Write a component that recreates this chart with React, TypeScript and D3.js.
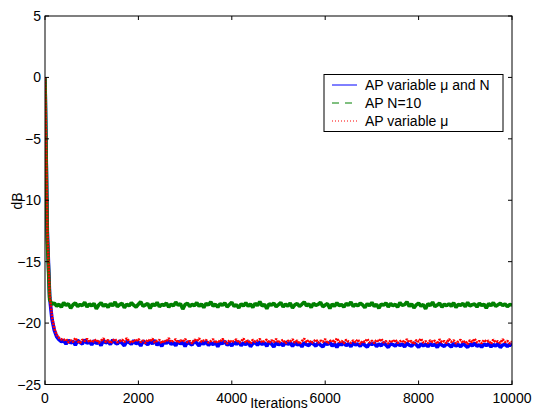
import React from "react";
import * as d3 from "d3";

const ITER_STEP = 50;
const X_TICKS = [0, 2000, 4000, 6000, 8000, 10000];
const Y_TICKS = [5, 0, -5, -10, -15, -20, -25];
const SERIES_NAMES = ["AP variable \u03bc and N", "AP N=10", "AP variable \u03bc"];

const blueVals = [
  0, -12.6, -17.9, -19.7, -20.6, -21.1, -21.35, -21.5, -21.42,
  -21.71, -21.38, -21.62, -21.47, -21.80, -21.41, -21.58, -21.69, -21.36, -21.64, -21.50, -21.77,
  -21.43, -21.66, -21.52, -21.82, -21.40, -21.61, -21.49, -21.74, -21.37, -21.59, -21.70, -21.45,
  -21.63, -21.84, -21.48, -21.57, -21.72, -21.42, -21.68, -21.55, -21.86, -21.46, -21.61, -21.75,
  -21.50, -21.67, -21.41, -21.79, -21.58, -21.88, -21.52, -21.64, -21.44, -21.73, -21.60, -21.83,
  -21.47, -21.69, -21.56, -21.90, -21.51, -21.66, -21.78, -21.45, -21.62, -21.85, -21.54, -21.71,
  -21.49, -21.81, -21.60, -21.74, -21.52, -21.92, -21.58, -21.67, -21.47, -21.79, -21.63, -21.86,
  -21.55, -21.72, -21.50, -21.84, -21.61, -21.76, -21.48, -21.91, -21.66, -21.57, -21.80, -21.53,
  -21.74, -21.59, -21.88, -21.52, -21.69, -21.95, -21.58, -21.77, -21.63, -21.84, -21.54, -21.73,
  -21.61, -21.89, -21.56, -21.78, -21.66, -21.93, -21.59, -21.75, -21.82, -21.55, -21.70, -21.87,
  -21.60, -21.79, -21.94, -21.62, -21.73, -21.57, -21.86, -21.68, -21.97, -21.64, -21.77, -21.59,
  -21.83, -21.66, -21.92, -21.61, -21.78, -21.70, -21.88, -21.58, -21.81, -21.95, -21.65, -21.74,
  -21.62, -21.90, -21.71, -21.84, -21.59, -21.79, -21.98, -21.67, -21.75, -21.87, -21.63, -21.82,
  -21.70, -21.93, -21.64, -21.80, -21.88, -21.61, -21.76, -21.96, -21.68, -21.85, -21.73, -21.91,
  -21.66, -21.83, -21.72, -21.99, -21.63, -21.80, -21.89, -21.69, -21.77, -21.94, -21.65, -21.86,
  -21.74, -21.92, -21.67, -21.81, -21.97, -21.70, -21.84, -21.64, -21.88, -21.76, -21.95, -21.71,
  -21.82, -21.68, -21.93, -21.75, -21.87, -21.66, -21.98, -21.79, -21.72, -21.90, -21.69, -21.84,
];

const greenVals = [
  0, -13.2, -18.1, -18.45,
  -18.38, -18.61, -18.47, -18.70, -18.33, -18.55, -18.44, -18.78, -18.51, -18.36, -18.64, -18.49,
  -18.57, -18.31, -18.68, -18.45, -18.59, -18.40, -18.83, -18.53, -18.35, -18.62, -18.48, -18.72,
  -18.42, -18.58, -18.29, -18.66, -18.50, -18.39, -18.75, -18.46, -18.60, -18.34, -18.54, -18.69,
  -18.47, -18.27, -18.63, -18.52, -18.41, -18.80, -18.44, -18.58, -18.32, -18.67, -18.49, -18.56,
  -18.37, -18.71, -18.46, -18.60, -18.30, -18.55, -18.43, -18.86, -18.50, -18.39, -18.65, -18.48,
  -18.58, -18.34, -18.62, -18.45, -18.74, -18.40, -18.53, -18.28, -18.61, -18.47, -18.70, -18.42,
  -18.55, -18.36, -18.68, -18.49, -18.31, -18.64, -18.51, -18.77, -18.44, -18.59, -18.35, -18.63,
  -18.46, -18.72, -18.40, -18.57, -18.26, -18.60, -18.48, -18.82, -18.43, -18.54, -18.38, -18.66,
  -18.50, -18.33, -18.69, -18.45, -18.61, -18.37, -18.76, -18.52, -18.41, -18.64, -18.47, -18.29,
  -18.59, -18.44, -18.73, -18.39, -18.56, -18.48, -18.31, -18.67, -18.53, -18.42, -18.81, -18.46,
  -18.62, -18.35, -18.57, -18.49, -18.70, -18.41, -18.54, -18.28, -18.65, -18.47, -18.60, -18.38,
  -18.51, -18.74, -18.43, -18.58, -18.32, -18.63, -18.48, -18.79, -18.45, -18.55, -18.36, -18.68,
  -18.40, -18.59, -18.47, -18.71, -18.34, -18.56, -18.50, -18.27, -18.64, -18.44, -18.75, -18.52,
  -18.37, -18.61, -18.49, -18.84, -18.42, -18.57, -18.30, -18.66, -18.53, -18.39, -18.70, -18.46,
  -18.58, -18.43, -18.62, -18.35, -18.73, -18.48, -18.55, -18.41, -18.67, -18.32, -18.60, -18.50,
  -18.45, -18.69, -18.38, -18.56, -18.47, -18.78, -18.42, -18.59, -18.33, -18.64, -18.51, -18.40,
  -18.57, -18.44, -18.66, -18.49, -18.53,
];

const redVals = [
  0, -12.4, -17.7, -19.5, -20.45, -20.95, -21.2, -21.32, -21.38,
  -21.30, -21.58, -21.41, -21.52, -21.22, -21.49, -21.62, -21.35, -21.47, -21.28, -21.55, -21.40,
  -21.51, -21.33, -21.60, -21.44, -21.26, -21.53, -21.38, -21.65, -21.42, -21.31, -21.57, -21.46,
  -21.36, -21.54, -21.24, -21.48, -21.61, -21.39, -21.50, -21.29, -21.56, -21.43, -21.63, -21.34,
  -21.49, -21.27, -21.58, -21.45, -21.37, -21.64, -21.41, -21.52, -21.23, -21.55, -21.44, -21.32,
  -21.60, -21.40, -21.51, -21.30, -21.57, -21.46, -21.66, -21.35, -21.48, -21.25, -21.53, -21.42,
  -21.38, -21.59, -21.47, -21.31, -21.62, -21.44, -21.54, -21.28, -21.50, -21.67, -21.39, -21.56,
  -21.45, -21.33, -21.61, -21.49, -21.26, -21.57, -21.41, -21.68, -21.36, -21.52, -21.43, -21.30,
  -21.58, -21.46, -21.35, -21.63, -21.40, -21.54, -21.29, -21.60, -21.48, -21.37, -21.65, -21.44,
  -21.51, -21.32, -21.59, -21.42, -21.69, -21.47, -21.27, -21.56, -21.39, -21.62, -21.50, -21.34,
  -21.60, -21.43, -21.53, -21.30, -21.66, -21.48, -21.38, -21.58, -21.24, -21.55, -21.45, -21.64,
  -21.36, -21.52, -21.61, -21.41, -21.57, -21.33, -21.70, -21.46, -21.54, -21.29, -21.59, -21.44,
  -21.63, -21.37, -21.50, -21.28, -21.58, -21.47, -21.67, -21.40, -21.55, -21.35, -21.62, -21.49,
  -21.42, -21.60, -21.31, -21.56, -21.45, -21.71, -21.38, -21.52, -21.26, -21.59, -21.48, -21.65,
  -21.39, -21.54, -21.44, -21.68, -21.33, -21.57, -21.47, -21.62, -21.30, -21.53, -21.41, -21.66,
  -21.50, -21.36, -21.61, -21.45, -21.72, -21.40, -21.55, -21.28, -21.58, -21.46, -21.64, -21.37,
  -21.53, -21.43, -21.69, -21.35, -21.57, -21.48, -21.62, -21.32, -21.55, -21.44, -21.66, -21.50,
];

const W = 535;
const H = 412;
const M = { left: 45, right: 512, top: 16, bottom: 384.5 };
const FONT = "'Liberation Sans', Arial, Helvetica, sans-serif";

export default function App() {
  const x = d3.scaleLinear().domain([0, 10000]).range([M.left, M.right]);
  const y = d3.scaleLinear().domain([-25, 5]).range([M.bottom, M.top]);
  const line = d3
    .line<number>()
    .x((_, i) => x(i * ITER_STEP))
    .y((d) => y(d));

  const series = [
    { name: SERIES_NAMES[0], vals: blueVals, color: "#0000ff", width: 3.6, dash: "none", legendDash: "none" },
    { name: SERIES_NAMES[1], vals: greenVals, color: "#008000", width: 3.6, dash: "none", legendDash: "7,6" },
    { name: SERIES_NAMES[2], vals: redVals, color: "#ff0000", width: 2.6, dash: "2,1", legendDash: "1,2" },
  ];
  const fmt = (v: number) => (v < 0 ? "\u2212" + Math.abs(v) : String(v));
  const tickLen = 4;
  const legend = { x: 324, y: 74.5, w: 179, h: 57 };
  const rowY = [85, 103, 121];

  return (
    <svg
      width={W}
      height={H}
      style={{ position: "absolute", left: 0, top: 0, background: "#fff" }}
      fontFamily={FONT}
    >
      <defs>
        <clipPath id="plotclip">
          <rect x={M.left} y={M.top} width={M.right - M.left} height={M.bottom - M.top} />
        </clipPath>
      </defs>
      <rect x={0} y={0} width={W} height={H} fill="#fff" />
      <g clipPath="url(#plotclip)">
        {series.map((s) => (
          <path
            key={s.name}
            d={line(s.vals) || ""}
            fill="none"
            stroke={s.color}
            strokeWidth={s.width}
            strokeLinejoin="bevel"
            strokeDasharray={s.dash}
          />
        ))}
      </g>
      <rect
        x={M.left}
        y={M.top}
        width={M.right - M.left}
        height={M.bottom - M.top}
        fill="none"
        stroke="#000"
        strokeWidth={1}
      />
      {X_TICKS.map((t) => (
        <g key={"x" + t}>
          <line x1={x(t)} x2={x(t)} y1={M.bottom} y2={M.bottom - tickLen} stroke="#000" />
          <line x1={x(t)} x2={x(t)} y1={M.top} y2={M.top + tickLen} stroke="#000" />
          <text x={x(t)} y={403} textAnchor="middle" fontSize={14} fill="#000">
            {t}
          </text>
        </g>
      ))}
      {Y_TICKS.map((t) => (
        <g key={"y" + t}>
          <line x1={M.left} x2={M.left + tickLen} y1={y(t)} y2={y(t)} stroke="#000" />
          <line x1={M.right} x2={M.right - tickLen} y1={y(t)} y2={y(t)} stroke="#000" />
          <text x={41} y={y(t) + 5} textAnchor="end" fontSize={14} fill="#000">
            {fmt(t)}
          </text>
        </g>
      ))}
      <text x={279} y={408} textAnchor="middle" fontSize={14} fill="#000">
        Iterations
      </text>
      <text
        transform="translate(22, 201) rotate(-90)"
        textAnchor="middle"
        fontSize={14}
        fill="#000"
      >
        dB
      </text>
      <rect x={legend.x} y={legend.y} width={legend.w} height={legend.h} fill="#fff" stroke="#000" />
      {series.map((s, i) => (
        <g key={"lg" + i}>
          <line
            x1={332}
            x2={357}
            y1={rowY[i]}
            y2={rowY[i]}
            stroke={s.color}
            strokeWidth={1}
            strokeDasharray={s.legendDash}
          />
          <text x={365} y={rowY[i] + 5} fontSize={14} fill="#000">
            {s.name}
          </text>
        </g>
      ))}
    </svg>
  );
}
